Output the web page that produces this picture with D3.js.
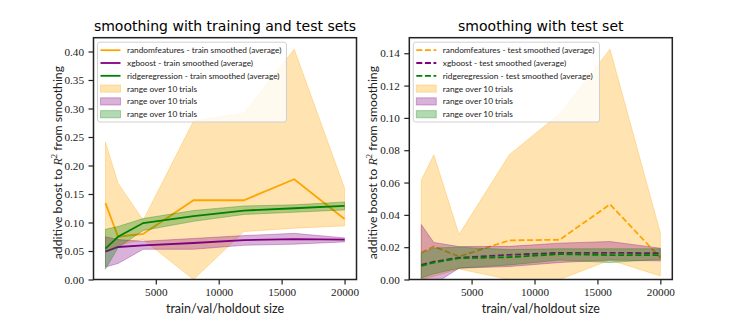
<!DOCTYPE html>
<html><head><meta charset="utf-8">
<script src="https://cdn.jsdelivr.net/npm/d3@7/dist/d3.min.js"></script>
<style>body{margin:0;background:#fff}svg{display:block}</style>
</head><body>
<svg id="chart" width="747" height="320"></svg>
<script>
// ---------------- data ----------------
const sizes = [1000, 2000, 4000, 8000, 12000, 16000, 20000];
const seriesNames = ["randomfeatures", "xgboost", "ridgeregression"];
const xTicks = [5000, 10000, 15000, 20000];
const yTicksTrain = [0, 0.05, 0.10, 0.15, 0.20, 0.25, 0.30, 0.35, 0.40];
const yTicksTest = [0, 0.02, 0.04, 0.06, 0.08, 0.10, 0.12, 0.14];

// left panel: train smoothed
const rfTrainMean = [0.134, 0.075, 0.080, 0.139, 0.139, 0.176, 0.106];
const rfTrainLo   = [0.050, 0.060, 0.070, 0.000, 0.084, 0.090, 0.094];
const rfTrainHi   = [0.241, 0.169, 0.104, 0.278, 0.292, 0.404, 0.160];
const xgTrainMean = [0.049, 0.057, 0.060, 0.064, 0.069, 0.071, 0.070];
const xgTrainLo   = [0.022, 0.028, 0.053, 0.053, 0.060, 0.062, 0.066];
const xgTrainHi   = [0.075, 0.070, 0.067, 0.072, 0.077, 0.081, 0.073];
const rrTrainMean = [0.054, 0.075, 0.099, 0.111, 0.121, 0.125, 0.129];
const rrTrainLo   = [0.018, 0.056, 0.086, 0.102, 0.114, 0.118, 0.122];
const rrTrainHi   = [0.088, 0.093, 0.107, 0.121, 0.129, 0.131, 0.136];

// right panel: test smoothed
const rfTestMean = [0.0167, 0.0205, 0.0142, 0.0242, 0.0246, 0.0465, 0.0135];
const rfTestLo   = [0.0000, 0.0020, 0.0065, 0.0000, 0.0000, 0.0120, 0.0022];
const rfTestHi   = [0.0614, 0.0772, 0.0278, 0.0772, 0.1026, 0.1425, 0.0288];
const xgTestMean = [0.0090, 0.0110, 0.0135, 0.0153, 0.0165, 0.0165, 0.0163];
const xgTestLo   = [-0.005, -0.003, 0.0070, 0.0080, 0.0105, 0.0120, 0.0115];
const xgTestHi   = [0.0340, 0.0229, 0.0204, 0.0205, 0.0225, 0.0235, 0.0194];
const rrTestMean = [0.0084, 0.0105, 0.0132, 0.0138, 0.0157, 0.0151, 0.0151];
const rrTestLo   = [0.0010, 0.0035, 0.0070, 0.0090, 0.0120, 0.0105, 0.0125];
const rrTestHi   = [0.0163, 0.0195, 0.0200, 0.0185, 0.0190, 0.0190, 0.0190];

// ---------------- styles ----------------
const colors = ["orange", "purple", "green"];
const sansFont = "Lato, 'Open Sans', sans-serif";
const serifFont = "'Liberation Serif', 'DejaVu Serif', serif";
const titleFont = "'DejaVu Sans', sans-serif";
const textColor = "#222";
const lineW = 1.8;

const svg = d3.select("#chart");

function panel(opt) {
  const g = svg.append("g");
  const top = 37.7, bottom = 279.5;
  const xr = d3.extent(sizes), pad = (xr[1] - xr[0]) * 0.05;
  const x = d3.scaleLinear().domain([xr[0] - pad, xr[1] + pad]).range([opt.left, opt.right]);
  const yMax = d3.max(opt.series, s => d3.max(s.hi)) * 1.05;
  const y = d3.scaleLinear().domain([0, yMax]).range([bottom, top]);

  const clipId = "clip" + opt.id;
  svg.append("defs").append("clipPath").attr("id", clipId)
    .append("rect").attr("x", opt.left).attr("y", top)
    .attr("width", opt.right - opt.left).attr("height", bottom - top);

  const plot = g.append("g").attr("clip-path", `url(#${clipId})`);
  const line = d3.line().x((d, i) => x(sizes[i])).y(d => y(d));
  const area = d3.area().x((d, i) => x(sizes[i])).y0(d => y(d[0])).y1(d => y(d[1]));

  opt.series.forEach((s, k) => {
    plot.append("path").datum(s.mean).attr("d", line)
      .attr("fill", "none").attr("stroke", colors[k]).attr("stroke-width", lineW)
      .attr("stroke-dasharray", opt.dashed ? "6,2.6" : null);
    plot.append("path").datum(s.lo.map((v, i) => [v, s.hi[i]])).attr("d", area)
      .attr("fill", colors[k]).attr("fill-opacity", 0.3)
      .attr("stroke", colors[k]).attr("stroke-opacity", 0.3).attr("stroke-width", 1);
  });

  // axes
  const ax = g.append("g").attr("transform", `translate(0,${bottom})`)
    .call(d3.axisBottom(x).tickValues(xTicks).tickFormat(d3.format("d")).tickSize(5).tickPadding(4));
  const ay = g.append("g").attr("transform", `translate(${opt.left},0)`)
    .call(d3.axisLeft(y).tickValues(opt.yTicks).tickFormat(d3.format(".2f")).tickSize(5).tickPadding(4.5));
  [ax, ay].forEach(a => {
    a.select(".domain").remove();
    a.selectAll(".tick line").attr("stroke", textColor).attr("stroke-width", 1.2);
    a.selectAll(".tick text").attr("font-family", serifFont).attr("font-size", 11.2).attr("fill", textColor);
  });

  g.append("rect").attr("x", opt.left).attr("y", top)
    .attr("width", opt.right - opt.left).attr("height", bottom - top)
    .attr("fill", "none").attr("stroke", textColor).attr("stroke-width", 1.5);

  // title
  g.append("text").attr("x", (opt.left + opt.right) / 2).attr("y", 31)
    .attr("text-anchor", "middle").attr("font-family", titleFont).attr("font-size", 14)
    .attr("fill", "#000").text(opt.title);
  // x label
  g.append("text").attr("x", (opt.left + opt.right) / 2).attr("y", 313)
    .attr("text-anchor", "middle").attr("font-family", sansFont).attr("font-size", 12.5)
    .attr("fill", textColor).text("train/val/holdout size");
  // y label
  const yl = g.append("text")
    .attr("transform", `translate(${opt.left - 32},${(top + bottom) / 2 + 4}) rotate(-90)`)
    .attr("text-anchor", "middle").attr("font-family", sansFont).attr("font-size", 12.2)
    .attr("fill", textColor);
  yl.append("tspan").text("additive boost to ");
  yl.append("tspan").attr("font-family", serifFont).attr("font-style", "italic").text("R");
  yl.append("tspan").attr("font-family", serifFont).attr("font-size", 8.5).attr("dy", -5).text("2");
  yl.append("tspan").attr("dy", 5).text(" from smoothing");

  // legend
  const lg = g.append("g").attr("transform", `translate(${opt.left + 4},${top + 4.5})`);
  const box = lg.append("rect").attr("rx", 2.5).attr("fill", "#fff").attr("fill-opacity", 0.8)
    .attr("stroke", "#ccc").attr("stroke-width", 0.9);
  const rowH = 12.8;
  const labels = seriesNames.map(n => `${n} - ${opt.kind} smoothed (average)`)
    .concat(seriesNames.map(() => "range over 10 trials"));
  let maxW = 0;
  labels.forEach((lab, i) => {
    const yy = 8 + i * rowH;
    const k = i % 3;
    if (i < 3) {
      lg.append("line").attr("x1", 3).attr("x2", 23).attr("y1", yy).attr("y2", yy)
        .attr("stroke", colors[k]).attr("stroke-width", lineW)
        .attr("stroke-dasharray", opt.dashed ? "6,2.6" : null);
    } else {
      lg.append("rect").attr("x", 3).attr("y", yy - 3.6).attr("width", 20).attr("height", 7.2)
        .attr("fill", colors[k]).attr("fill-opacity", 0.3)
        .attr("stroke", colors[k]).attr("stroke-opacity", 0.3).attr("stroke-width", 1);
    }
    const t = lg.append("text").attr("x", 29.5).attr("y", yy + 3).attr("font-family", sansFont)
      .attr("font-size", 8.3).attr("fill", textColor).text(lab);
    maxW = Math.max(maxW, t.node().getComputedTextLength());
  });
  box.attr("x", 0).attr("y", 0).attr("width", 29.5 + maxW + 5).attr("height", 6 * rowH + 3);
}

panel({id: "L", left: 93.5, right: 356.5, title: "smoothing with training and test sets",
  kind: "train", dashed: false, yTicks: yTicksTrain,
  series: [
    {mean: rfTrainMean, lo: rfTrainLo, hi: rfTrainHi},
    {mean: xgTrainMean, lo: xgTrainLo, hi: xgTrainHi},
    {mean: rrTrainMean, lo: rrTrainLo, hi: rrTrainHi}]});
panel({id: "R", left: 409.3, right: 672.3, title: "smoothing with test set",
  kind: "test", dashed: true, yTicks: yTicksTest,
  series: [
    {mean: rfTestMean, lo: rfTestLo, hi: rfTestHi},
    {mean: xgTestMean, lo: xgTestLo, hi: xgTestHi},
    {mean: rrTestMean, lo: rrTestLo, hi: rrTestHi}]});
</script>
</body></html>
